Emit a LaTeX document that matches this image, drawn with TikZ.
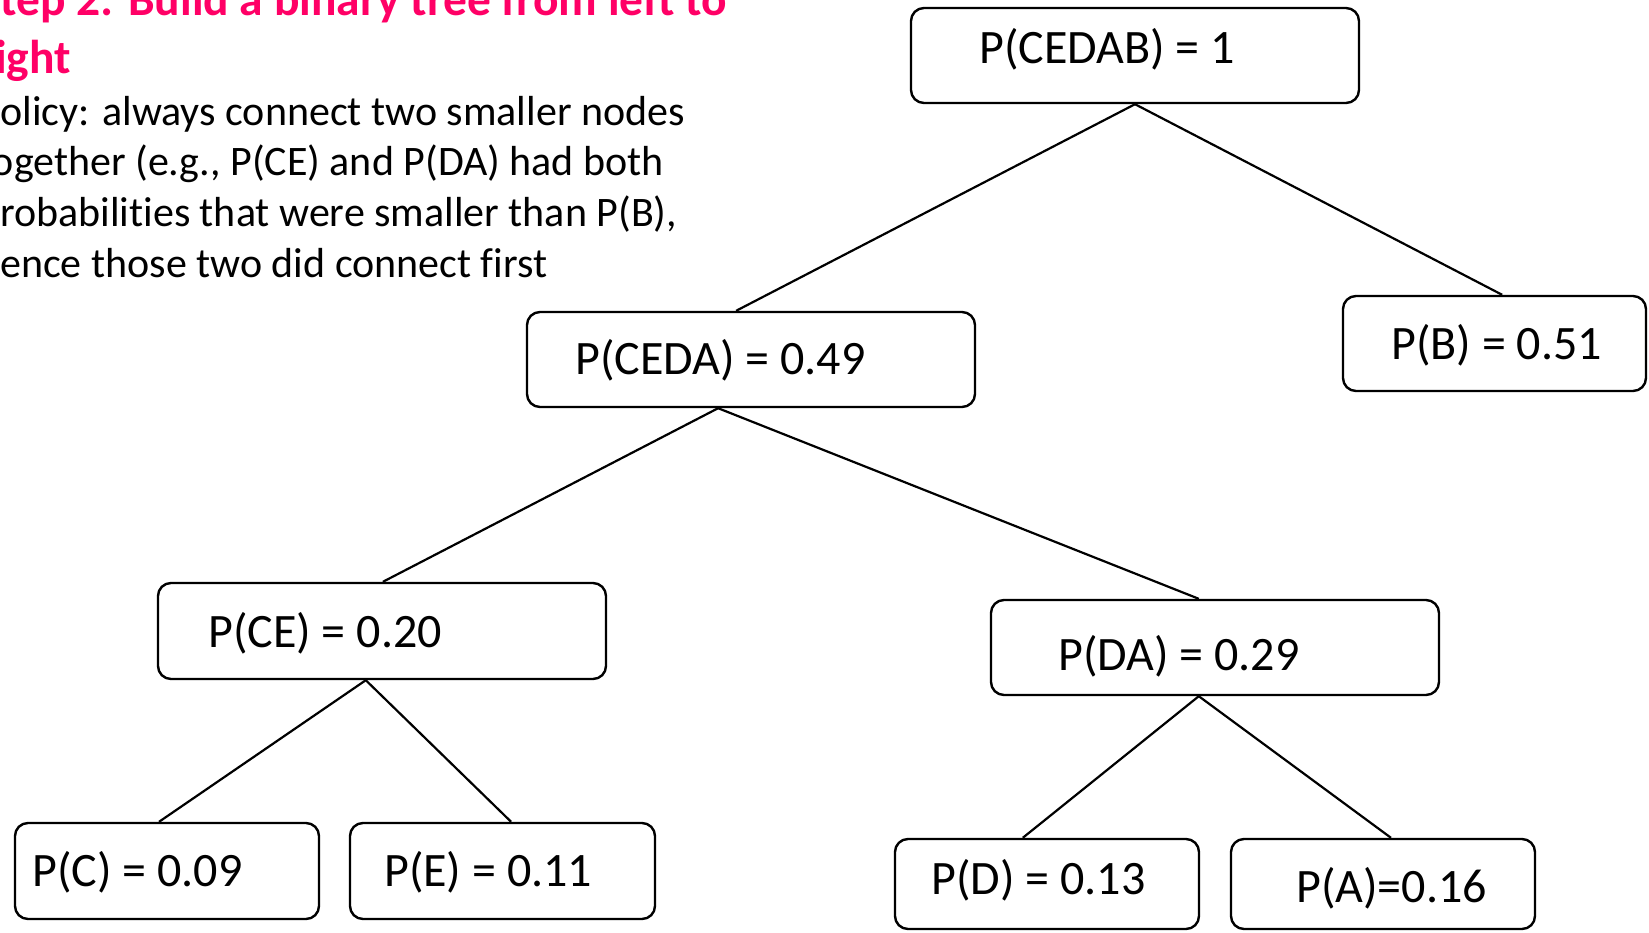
\documentclass[tikz,border=0pt]{standalone}
\usepackage{fontspec}
\setmainfont{Carlito}[Ligatures=NoCommon]
\usetikzlibrary{calc}
\definecolor{titlepink}{HTML}{FF0066}
\tikzset{
  box/.style={draw=black, line width=2.4pt, rounded corners=13pt, fill=white, inner sep=0pt},
  wide/.style={box, minimum width=448pt, minimum height=95pt},
  narrow/.style={box, minimum width=304pt, minimum height=95pt},
  lbl/.style={anchor=base west, inner sep=0pt, font=\fontsize{48}{57}\selectfont},
  ttl/.style={anchor=base west, inner sep=0pt, text=titlepink, font=\fontsize{47.5}{57}\selectfont\bfseries},
  body/.style={anchor=base west, inner sep=0pt, font=\fontsize{42}{50}\selectfont},
  conn/.style={draw=black, line width=2.2pt}
}
\begin{document}
\begin{tikzpicture}[x=1pt,y=-1pt]
\useasboundingbox (0,0) rectangle (1649,932);
\clip (0,0) rectangle (1649,932);
\fill[white] (0,0) rectangle (1649,932);

% heading text
\node[ttl] (t1) at (-22,15) {Step 2: Build a binary tree from left to};
\node[ttl] (t2) at (-22,73) {right};
\node[body] (b1) at (-22,125) {policy: always connect two smaller nodes};
\node[body] (b2) at (-22,175.5) {together (e.g., P(CE) and P(DA) had both};
\node[body] (b3) at (-22,226) {probabilities that were smaller than P(B),};
\node[body] (b4) at (-22,277) {hence those two did connect first};

% boxes
\node[wide] (cedab) at (1135,55.5) {};
\node[wide] (ceda) at (751,359.5) {};
\node[narrow, minimum width=303pt] (b) at (1494.5,343.5) {};
\node[wide, minimum height=96pt] (ce) at (382,631) {};
\node[wide] (da) at (1215,647.5) {};
\node[narrow, minimum height=96pt] (c) at (167,871) {};
\node[narrow, minimum width=305pt, minimum height=96pt] (e) at (502.5,871) {};
\node[narrow, minimum height=90pt] (d) at (1047,884) {};
\node[narrow, minimum height=90pt] (a) at (1383,884) {};

% connectors
\draw[conn] ($(cedab.south west)!0.5!(cedab.south east)$) -- ($(ceda.north west)!0.467!(ceda.north east)$);
\draw[conn] ($(cedab.south west)!0.5!(cedab.south east)$) -- ($(b.north west)!0.525!(b.north east)$);
\draw[conn] ($(ceda.south west)!0.427!(ceda.south east)$) -- ($(ce.north west)!0.502!(ce.north east)$);
\draw[conn] ($(ceda.south west)!0.427!(ceda.south east)$) -- ($(da.north west)!0.464!(da.north east)$);
\draw[conn] ($(ce.south west)!0.464!(ce.south east)$) -- ($(c.north west)!0.474!(c.north east)$);
\draw[conn] ($(ce.south west)!0.464!(ce.south east)$) -- ($(e.north west)!0.528!(e.north east)$);
\draw[conn] ($(da.south west)!0.464!(da.south east)$) -- ($(d.north west)!0.421!(d.north east)$);
\draw[conn] ($(da.south west)!0.464!(da.south east)$) -- ($(a.north west)!0.526!(a.north east)$);

% labels
\node[lbl] (cedabT) at (979,63) {P(CEDAB) = 1};
\node[lbl] (cedaT) at (575,374) {P(CEDA) = 0.49};
\node[lbl] (bT) at (1391,359) {P(B) = 0.51};
\node[lbl] (ceT) at (208,647) {P(CE) = 0.20};
\node[lbl] (daT) at (1058,670) {P(DA) = 0.29};
\node[lbl] (cT) at (32,886) {P(C) = 0.09};
\node[lbl] (eT) at (384,886) {P(E) = 0.11};
\node[lbl] (dT) at (931,894) {P(D) = 0.13};
\node[lbl] (aT) at (1296,902) {P(A)=0.16};
\end{tikzpicture}
\end{document}
